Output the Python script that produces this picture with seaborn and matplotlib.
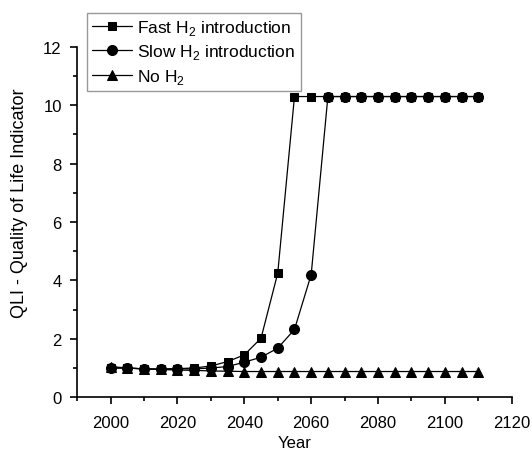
import pandas as pd
import matplotlib
matplotlib.use("Agg")
import matplotlib.pyplot as plt
import seaborn as sns
from matplotlib.ticker import MultipleLocator

years = list(range(2000, 2111, 5))
fast = [1.0, 1.0, 0.97, 0.97, 0.98, 1.0, 1.07, 1.22, 1.45, 2.02, 4.25, 10.3,
        10.3, 10.3, 10.3, 10.3, 10.3, 10.3, 10.3, 10.3, 10.3, 10.3, 10.3]
slow = [1.0, 1.0, 0.97, 0.95, 0.97, 0.97, 1.0, 1.05, 1.2, 1.37, 1.68, 2.32,
        4.2, 10.3, 10.3, 10.3, 10.3, 10.3, 10.3, 10.3, 10.3, 10.3, 10.3]
no_h2 = [1.05, 1.0, 0.97, 0.95, 0.93, 0.92, 0.9, 0.89, 0.88, 0.88, 0.88, 0.88,
         0.88, 0.88, 0.88, 0.88, 0.88, 0.88, 0.88, 0.88, 0.88, 0.88, 0.88]

labels = ["Fast H$_2$ introduction", "Slow H$_2$ introduction", "No H$_2$"]
series = [fast, slow, no_h2]
markers = ["s", "o", "^"]
msizes = [5.3, 7.2, 7.0]
zorders = [3, 4, 2]

sns.set_style("ticks", {"text.color": "black", "axes.labelcolor": "black",
                        "xtick.color": "black", "ytick.color": "black"})
plt.rcParams['font.family'] = ['Liberation Sans', 'DejaVu Sans']
plt.rcParams['mathtext.fontset'] = 'custom'
plt.rcParams['mathtext.rm'] = 'Liberation Sans'

fig = plt.figure(figsize=(5.32, 4.52), dpi=100)
ax = fig.add_axes([0.145, 0.119, 0.817, 0.775])

for lab, vals, m, ms, z in zip(labels, series, markers, msizes, zorders):
    df = pd.DataFrame({"Year": years, "QLI": vals})
    sns.lineplot(data=df, x="Year", y="QLI", ax=ax, color="black", linewidth=0.9,
                 marker=m, markersize=ms, markeredgecolor="black", label=lab,
                 zorder=z)

ax.set_xlim(1990, 2120)
ax.set_ylim(0, 12)
ax.set_xticks(range(2000, 2121, 20))
ax.xaxis.set_minor_locator(MultipleLocator(10))
ax.yaxis.set_major_locator(MultipleLocator(2))
ax.yaxis.set_minor_locator(MultipleLocator(1))
ax.tick_params(which="major", length=5, width=1.2, labelsize=12,
               color="black", labelcolor="black")
ax.tick_params(axis="x", which="major", pad=8)
ax.tick_params(axis="y", which="major", pad=6)
ax.tick_params(which="minor", length=3, width=1.2, color="black")
for s in ["left", "bottom"]:
    ax.spines[s].set_linewidth(1.2)
    ax.spines[s].set_color("black")
ax.spines["top"].set_visible(False)
ax.spines["right"].set_visible(False)
ax.set_xlabel("Year", fontsize=12, color="black")
ax.set_ylabel("QLI - Quality of Life Indicator", fontsize=13, color="black")
ax.xaxis.set_label_coords(0.5, -0.108)
ax.yaxis.set_label_coords(-0.113, 0.557)

leg = ax.legend(loc="upper left", bbox_to_anchor=(87 / 532, 1 - 14 / 452),
                bbox_transform=fig.transFigure, fontsize=12.5, frameon=True,
                fancybox=False, edgecolor="gray", handlelength=2.3,
                borderpad=0.3, labelspacing=0.3, handletextpad=0.3,
                borderaxespad=0, labelcolor="black")
leg.get_frame().set_linewidth(1.0)

fig.savefig("out.png", dpi=100)
